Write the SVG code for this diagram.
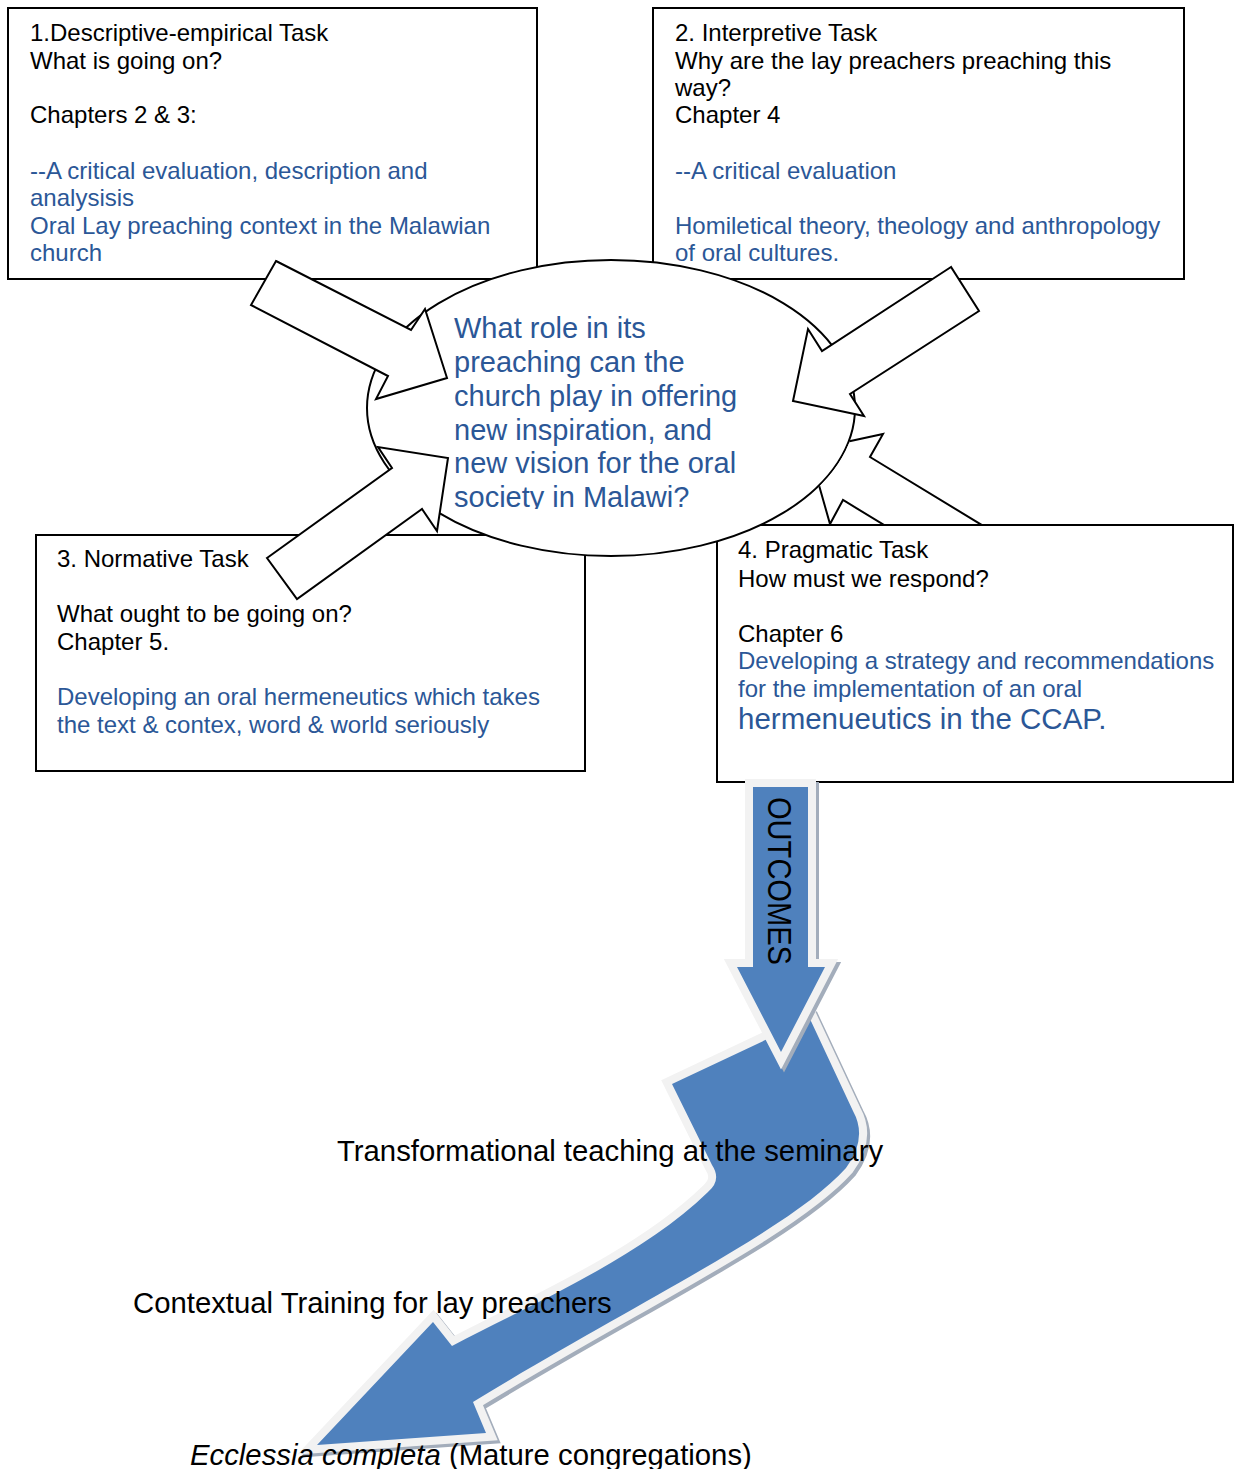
<svg xmlns="http://www.w3.org/2000/svg" width="1234" height="1469" viewBox="0 0 1234 1469">
<defs>
<style>
.box{fill:#fff;stroke:#000;stroke-width:2}
.t{font-family:"Liberation Sans",Arial,sans-serif;font-size:24px;fill:#000}
.b{fill:#2b5797}
.q{font-family:"Liberation Sans",Arial,sans-serif;font-size:29px;fill:#2b5797}
.lab{font-family:"Liberation Sans",Arial,sans-serif;font-size:29.3px;fill:#000}
.arr{fill:#fff;stroke:#000;stroke-width:2;stroke-linejoin:miter}
.blue{fill:#4f81bd}
.rim{fill:#f2f2f2;stroke:#f2f2f2;stroke-width:16;stroke-linejoin:miter}
.shadow{fill:#a3adbb;stroke:#a3adbb;stroke-width:16;stroke-linejoin:miter}
</style>
<clipPath id="qclip"><rect x="440" y="300" width="330" height="209"/></clipPath>
<mask id="a4mask" maskUnits="userSpaceOnUse" x="0" y="0" width="1234" height="1469">
<rect x="0" y="0" width="1234" height="524" fill="#fff"/>
<ellipse cx="611" cy="408" rx="245" ry="149" fill="#000"/>
</mask>
</defs>
<rect width="1234" height="1469" fill="#fff"/>

<g id="box1">
<rect class="box" x="8" y="8" width="529" height="271"/>
<text class="t" x="30" y="41">1.Descriptive-empirical Task</text>
<text class="t" x="30" y="68.5">What is going on?</text>
<text class="t" x="30" y="123">Chapters 2 &amp; 3:</text>
<text class="t b" x="30" y="178.5">--A critical evaluation, description and</text>
<text class="t b" x="30" y="206">analysisis</text>
<text class="t b" x="30" y="233.5">Oral Lay preaching context in the Malawian</text>
<text class="t b" x="30" y="261">church</text>
</g>

<g id="box2">
<rect class="box" x="653" y="8" width="531" height="271"/>
<text class="t" x="675" y="41">2. Interpretive Task</text>
<text class="t" x="675" y="68.5">Why are the lay preachers preaching this</text>
<text class="t" x="675" y="96">way?</text>
<text class="t" x="675" y="123">Chapter 4</text>
<text class="t b" x="675" y="178.5">--A critical evaluation</text>
<text class="t b" x="675" y="233.5">Homiletical theory, theology and anthropology</text>
<text class="t b" x="675" y="261">of oral cultures.</text>
</g>

<g id="box3">
<rect class="box" x="36" y="535" width="549" height="236"/>
<text class="t" x="57" y="567">3. Normative Task</text>
<text class="t" x="57" y="622">What ought to be going on?</text>
<text class="t" x="57" y="650">Chapter 5.</text>
<text class="t b" x="57" y="705">Developing an oral hermeneutics which takes</text>
<text class="t b" x="57" y="733">the text &amp; contex, word &amp; world seriously</text>
</g>

<g id="box4">
<rect class="box" x="717" y="525" width="516" height="257"/>
<text class="t" x="738" y="558">4. Pragmatic Task</text>
<text class="t" x="738" y="587">How must we respond?</text>
<text class="t" x="738" y="642">Chapter 6</text>
<text class="t b" x="738" y="669">Developing a strategy and recommendations</text>
<text class="t b" x="738" y="697">for the implementation of an oral</text>
<text class="t b" x="738" y="729" style="font-size:29.5px">hermenueutics in the CCAP.</text>
</g>

<g id="center">
<ellipse cx="611" cy="408" rx="244" ry="148" fill="#fff" stroke="#000" stroke-width="2"/>
</g>

<g id="connectors">
<polygon id="arrow4" class="arr" mask="url(#a4mask)" points="809,450 883,434 870,457 1041,561 1014,604 843,500 830,524"/>
<polygon id="arrow1" class="arr" points="276,261 411,330 425,309 447,378 376,399 388,376 251,305"/>
<polygon id="arrow2" class="arr" points="951,267 822,351 808,329 793,401 864,416 850,394 979,311"/>
<polygon id="arrow3" class="arr" points="267,558 392,468 378,447 448,458 437,531 422,509 297,599"/>

<g id="curved">
<path class="shadow" transform="translate(3,3)" d="M672,1084 L810,1019 L853,1111 Q868,1138 846,1168 C790,1230 640,1300 473,1402 L486,1433 L317,1445 L433,1322 L452,1346 C530,1305 640,1258 708,1192 Q722,1180 712,1165 Z"/>
<path class="rim" d="M672,1084 L810,1019 L853,1111 Q868,1138 846,1168 C790,1230 640,1300 473,1402 L486,1433 L317,1445 L433,1322 L452,1346 C530,1305 640,1258 708,1192 Q722,1180 712,1165 Z"/>
<path class="blue" d="M672,1084 L810,1019 L853,1111 Q868,1138 846,1168 C790,1230 640,1300 473,1402 L486,1433 L317,1445 L433,1322 L452,1346 C530,1305 640,1258 708,1192 Q722,1180 712,1165 Z"/>
</g>

<g id="outcomes">
<polygon class="shadow" transform="translate(3,3)" points="753,787 808,787 808,967 825,967 781,1052 737,967 753,967"/>
<polygon class="rim" points="753,787 808,787 808,967 825,967 781,1052 737,967 753,967"/>
<polygon class="blue" points="753,787 808,787 808,967 825,967 781,1052 737,967 753,967"/>
<text transform="translate(768,797) rotate(90)" style="font-family:'Liberation Sans',Arial,sans-serif;font-size:33px;fill:#000" textLength="168" lengthAdjust="spacingAndGlyphs">OUTCOMES</text>
</g>
</g>

<g id="question" clip-path="url(#qclip)">
<text class="q" x="454" y="338">What role in its</text>
<text class="q" x="454" y="372">preaching can the</text>
<text class="q" x="454" y="406">church play in offering</text>
<text class="q" x="454" y="440">new inspiration, and</text>
<text class="q" x="454" y="473">new vision for the oral</text>
<text class="q" x="454" y="507">society in Malawi?</text>
</g>

<g id="labels">
<text class="lab" x="337" y="1161">Transformational teaching at the seminary</text>
<text class="lab" x="133" y="1313">Contextual Training for lay preachers</text>
<text class="lab" x="190" y="1465"><tspan font-style="italic">Ecclessia completa</tspan> (Mature congregations)</text>
</g>
</svg>
